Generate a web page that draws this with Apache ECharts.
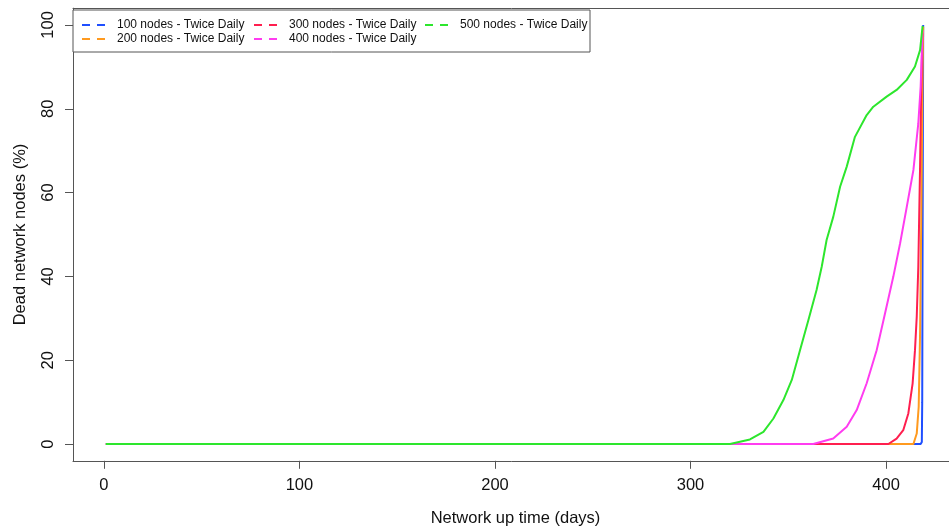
<!DOCTYPE html>
<html>
<head>
<meta charset="utf-8">
<script src="https://cdn.jsdelivr.net/npm/echarts@6/dist/echarts.min.js"></script>
<style>
html,body{margin:0;padding:0;background:#fff;}
#chart{width:949px;height:526px;}
</style>
</head>
<body>
<div id="chart"></div>
<script>
var seriesNames = ["100 nodes - Twice Daily","200 nodes - Twice Daily","300 nodes - Twice Daily","400 nodes - Twice Daily","500 nodes - Twice Daily"];
var xTicks = [0,100,200,300,400];
var yTicks = [0,20,40,60,80,100];

var days100 = [1, 100, 200, 300, 400, 417.7, 418.3, 418.5, 418.7, 419];
var dead100 = [0, 0, 0, 0, 0, 0, 0.5, 10, 50, 100];

var days200 = [1, 100, 200, 300, 400, 414, 415.7, 416.7, 417.4, 418.1, 418.7, 419];
var dead200 = [0, 0, 0, 0, 0, 0, 2.5, 8.9, 26.4, 58, 90, 99.6];

var days300 = [1, 100, 200, 300, 401.2, 405.4, 408.8, 411.4, 413.6, 414.8, 415.7, 416.5, 417.4, 417.9, 418.6];
var dead300 = [0, 0, 0, 0, 0, 1.3, 3.3, 7.3, 14.5, 22.4, 30.4, 42.3, 66.2, 82.1, 98];

var days400 = [1, 100, 200, 300, 362.8, 373, 379.9, 385, 390.1, 395.2, 399.5, 403.7, 407.2, 410.6, 414, 416.5, 417.7, 418.7];
var dead400 = [0, 0, 0, 0, 0, 1.3, 4.1, 8.1, 14.5, 22.4, 31.2, 39.9, 47.9, 56.6, 65.4, 76.5, 85.3, 98.8];

var days500 = [1, 100, 200, 300, 320.2, 330.4, 337.3, 342.4, 347.5, 351.8, 356, 360.3, 364.5, 367.1, 369.6, 373, 376.5, 379.9, 384.1, 390.1, 393.5, 400.3, 405.4, 410.6, 414.8, 417.4, 418.7];
var dead500 = [0, 0, 0, 0, 0, 1.1, 2.9, 6.1, 10.5, 15.3, 22.4, 29.6, 36.8, 42.3, 48.7, 54.2, 61.4, 66.2, 73.3, 78.5, 80.5, 82.9, 84.5, 86.9, 90.1, 94, 99.8];

var colors = ['#1f4fff','#ff9a1f','#ff1f4f','#ff3cf0','#2de62d'];
var allDays = [days100, days200, days300, days400, days500];
var allDead = [dead100, dead200, dead300, dead400, dead500];

function zip(a, b){ return a.map(function(v,i){ return [v, b[i]]; }); }

var series = seriesNames.map(function(name, i){
  return {
    name: name,
    type: 'line',
    data: zip(allDays[i], allDead[i]),
    showSymbol: false,
    symbol: 'none',
    lineStyle: {width: 2, color: colors[i]},
    itemStyle: {color: colors[i]},
    animation: false
  };
});

var dashIcon = 'path://M0,0H8V2H0Z M15,0H23V2H15Z';
function legendCol(names, left){
  return {
    data: names,
    orient: 'vertical',
    left: left,
    top: 18,
    padding: 0,
    itemGap: 0,
    itemWidth: 23,
    itemHeight: 2,
    icon: dashIcon,
    textStyle: {fontFamily: 'Liberation Sans, Arial, sans-serif', fontSize: 12, color: '#111', lineHeight: 14, padding: [0,0,0,7]}
  };
}

var axisFont = 16.5;
var frameColor = '#555';
var chart = echarts.init(document.getElementById('chart'), null, {renderer: 'canvas'});
chart.setOption({
  backgroundColor: '#fff',
  animation: false,
  textStyle: {fontFamily: 'Liberation Sans, Arial, sans-serif'},
  grid: {left: 73, top: 8.2, width: 885, height: 452.6, outerBoundsMode: 'none', containLabel: false, show: false},
  xAxis: [{
    type: 'value', min: -15.8, max: 436.8, position: 'bottom',
    name: 'Network up time (days)', nameLocation: 'middle', nameGap: 49,
    nameTextStyle: {fontSize: axisFont, color: '#111'},
    axisLine: {show: true, onZero: false, lineStyle: {color: frameColor, width: 1}},
    axisTick: {show: true, length: 8, customValues: xTicks, lineStyle: {color: frameColor}},
    axisLabel: {customValues: xTicks, fontSize: axisFont, color: '#111', margin: 16},
    splitLine: {show: false}
  }, {
    type: 'value', min: -15.8, max: 436.8, position: 'top',
    axisLine: {show: true, onZero: false, lineStyle: {color: frameColor, width: 1}},
    axisTick: {show: false}, axisLabel: {show: false}, splitLine: {show: false}
  }],
  yAxis: {
    type: 'value', min: -4, max: 104,
    name: 'Dead network nodes (%)', nameLocation: 'middle', nameGap: 44, nameRotate: 90,
    nameTextStyle: {fontSize: axisFont, color: '#111'},
    axisLine: {show: true, onZero: false, lineStyle: {color: frameColor, width: 1}},
    axisTick: {show: true, length: 8, customValues: yTicks, lineStyle: {color: frameColor}},
    axisLabel: {customValues: yTicks, fontSize: axisFont, color: '#111', rotate: 90, margin: 16},
    splitLine: {show: false}
  },
  graphic: [{
    type: 'rect', z: 3,
    shape: {x: 73, y: 10, width: 517, height: 42},
    style: {fill: '#fff', stroke: frameColor, lineWidth: 1}
  }],
  legend: [
    legendCol([seriesNames[0], seriesNames[1]], 82),
    legendCol([seriesNames[2], seriesNames[3]], 254),
    legendCol([seriesNames[4]], 425)
  ],
  series: series
});
</script>
</body>
</html>
